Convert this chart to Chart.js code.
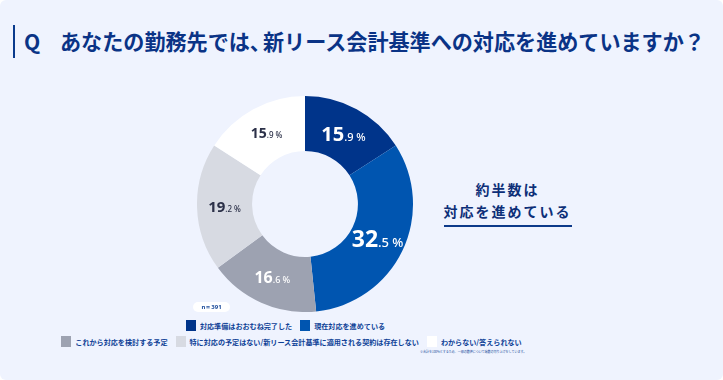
<!DOCTYPE html>
<html lang="ja">
<head>
<meta charset="utf-8">
<script src="https://cdn.jsdelivr.net/npm/chart.js@4/dist/chart.umd.min.js"></script>
<style>
  html,body{margin:0;padding:0;background:#ffffff;}
  body{width:723px;height:380px;overflow:hidden;font-family:"Noto Sans CJK JP","Noto Sans",sans-serif;}
  #card{position:absolute;left:0;top:0;width:723px;height:380px;background:#eff3fe;border-radius:6px;}
  #bar{position:absolute;left:13px;top:25px;width:2px;height:33px;background:#0a3a8c;}
  #title{position:absolute;left:24px;top:27px;font-size:21.1px;font-weight:700;color:#0a3386;white-space:nowrap;line-height:28px;}
  #title .q{display:inline-block;width:36px;}
  #title .c{letter-spacing:-8px;}
  #chartBox{position:absolute;left:197px;top:96px;width:216px;height:216px;}
  #note{position:absolute;left:420px;top:178px;width:175px;text-align:center;color:#0d2f78;font-weight:700;font-size:14px;letter-spacing:2px;line-height:22px;}
  #note .u{display:inline-block;border-bottom:2px solid #0d3a8a;padding-bottom:3px;}
  #n{position:absolute;left:193px;top:302px;width:37px;height:10px;border-radius:5px;background:#fff;color:#1a4a9a;font-size:6px;font-weight:700;text-align:center;line-height:10px;font-family:"Noto Sans",sans-serif;}
  .row{position:absolute;width:723px;display:flex;justify-content:center;align-items:center;}
  .item{display:flex;align-items:center;margin:0 4px;}
  .sw{width:10px;height:11px;margin-right:4px;}
  .lt{font-size:7.1px;font-weight:700;color:#0d3f96;white-space:nowrap;}
  #foot{position:absolute;left:420px;top:350px;font-size:3px;color:#1a4a9a;white-space:nowrap;}
</style>
</head>
<body>
<div id="card"></div>
<div id="bar"></div>
<div id="title"><span class="q">Q</span>あなたの勤務先では<span class="c">、</span>新リース会計基準への対応を進めていますか？</div>
<div id="chartBox"><canvas id="c"></canvas></div>
<div id="note">約半数は<br><span class="u">対応を進めている</span></div>
<div id="n">n＝391</div>
<div id="row1" class="row" style="top:320px;left:-76px;"></div>
<div id="row2" class="row" style="top:336px;left:-70px;"></div>
<div id="foot">※合計を100%とするため、一部の数値について端数の切り上げをしています。</div>
<script>
const categories = [
  "対応準備はおおむね完了した",
  "現在対応を進めている",
  "これから対応を検討する予定",
  "特に対応の予定はない/新リース会計基準に適用される契約は存在しない",
  "わからない/答えられない"
];
const values = [15.9, 32.5, 16.6, 19.2, 15.9];

const colors = ["#00348a", "#0055b0", "#9da2b1", "#d7dae2", "#ffffff"];
const labelColors = ["#ffffff", "#ffffff", "#ffffff", "#2b3048", "#2b3048"];
const labelSizes = [20, 23, 16, 15, 14];

// legend (HTML)
const rows = [[0,1],[2,3,4]];
rows.forEach((r, ri) => {
  const el = document.getElementById(ri === 0 ? "row1" : "row2");
  r.forEach(i => {
    const it = document.createElement("div");
    it.className = "item";
    const sw = document.createElement("div");
    sw.className = "sw";
    sw.style.background = colors[i];
    const t = document.createElement("span");
    t.className = "lt";
    t.textContent = categories[i];
    it.appendChild(sw); it.appendChild(t);
    el.appendChild(it);
  });
});

const labelPlugin = {
  id: "segLabels",
  afterDatasetsDraw(chart) {
    const ctx = chart.ctx;
    const meta = chart.getDatasetMeta(0);
    meta.data.forEach((arc, i) => {
      const p = arc.tooltipPosition();
      const v = values[i].toFixed(1);
      const [ip, dp] = v.split(".");
      const big = labelSizes[i];
      const small = Math.round(big * 0.55);
      const fam = '"Noto Sans", "Noto Sans CJK JP", sans-serif';
      ctx.save();
      ctx.fillStyle = labelColors[i];
      ctx.textBaseline = "alphabetic";
      ctx.font = `700 ${big}px ${fam}`;
      const w1 = ctx.measureText(ip).width;
      ctx.font = `500 ${small}px ${fam}`;
      const w2 = ctx.measureText("." + dp).width;
      const w3 = ctx.measureText("%").width;
      const gap = small * 0.25;
      const total = w1 + w2 + gap + w3;
      let x = p.x - total / 2;
      const y = p.y + big * 0.36;
      ctx.textAlign = "left";
      ctx.font = `700 ${big}px ${fam}`;
      ctx.fillText(ip, x, y); x += w1;
      ctx.font = `500 ${small}px ${fam}`;
      ctx.fillText("." + dp, x, y); x += w2 + gap;
      ctx.fillText("%", x, y);
      ctx.restore();
    });
  }
};

new Chart(document.getElementById("c"), {
  type: "doughnut",
  data: {
    labels: categories,
    datasets: [{
      data: values,
      backgroundColor: colors,
      borderWidth: 0
    }]
  },
  options: {
    responsive: true,
    maintainAspectRatio: false,
    animation: false,
    cutout: "49%",
    layout: { padding: 0 },
    plugins: { legend: { display: false }, tooltip: { enabled: false } }
  },
  plugins: [labelPlugin]
});
</script>
</body>
</html>
